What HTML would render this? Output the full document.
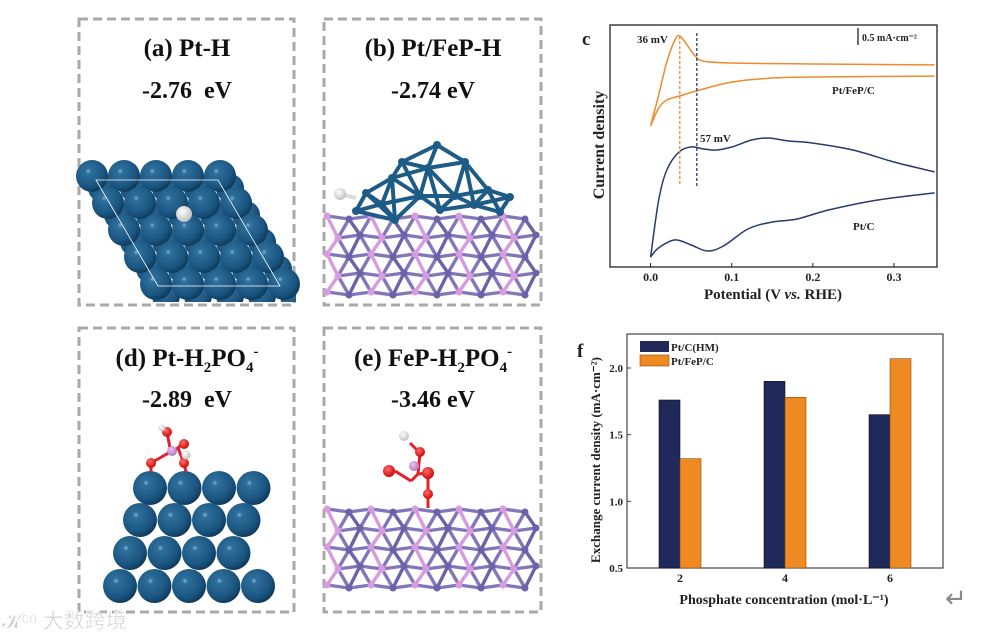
<!DOCTYPE html>
<html><head><meta charset="utf-8">
<style>
html,body{margin:0;padding:0;background:#fff;}
svg{display:block;font-family:"Liberation Serif",serif;}
</style></head>
<body>
<svg id="root" width="1005" height="637" viewBox="0 0 1005 637" xmlns="http://www.w3.org/2000/svg">
<defs>
<radialGradient id="ptg" cx="0.38" cy="0.35" r="0.7">
<stop offset="0" stop-color="#7fb4d6"/><stop offset="0.12" stop-color="#2f6f9c"/><stop offset="0.7" stop-color="#1a5580"/><stop offset="1" stop-color="#0d3554"/></radialGradient>
<radialGradient id="hg" cx="0.4" cy="0.35" r="0.7"><stop offset="0" stop-color="#fff"/><stop offset="1" stop-color="#bbb"/></radialGradient>
<radialGradient id="og" cx="0.4" cy="0.35" r="0.7"><stop offset="0" stop-color="#ff6a6a"/><stop offset="1" stop-color="#c00"/></radialGradient>
<radialGradient id="pg" cx="0.4" cy="0.35" r="0.7"><stop offset="0" stop-color="#f0c0f0"/><stop offset="1" stop-color="#b070c0"/></radialGradient>
<clipPath id="clipA"><rect x="70" y="150" width="226" height="152"/></clipPath>
</defs>
<g fill="none" stroke="#a9a9a9" stroke-width="3" stroke-dasharray="9,5">
<rect x="79" y="19" width="215" height="286"/>
<rect x="324" y="19" width="217" height="286"/>
<rect x="79" y="328" width="215" height="284"/>
<rect x="324" y="328" width="217" height="284"/>
</g>
<g font-weight="bold" fill="#111" text-anchor="middle">
<text x="187" y="56" font-size="25">(a) Pt-H</text>
<text x="187" y="98" font-size="24">-2.76&#160; eV</text>
<text x="433" y="56" font-size="25">(b) Pt/FeP-H</text>
<text x="433" y="98" font-size="24">-2.74 eV</text>
<text x="187" y="366" font-size="25">(d) Pt-H<tspan font-size="15" dy="6">2</tspan><tspan dy="-6">PO</tspan><tspan font-size="15" dy="6">4</tspan><tspan font-size="15" dy="-16">-</tspan></text>
<text x="187" y="407" font-size="24">-2.89&#160; eV</text>
<text x="433" y="366" font-size="25">(e) FeP-H<tspan font-size="15" dy="6">2</tspan><tspan dy="-6">PO</tspan><tspan font-size="15" dy="6">4</tspan><tspan font-size="15" dy="-16">-</tspan></text>
<text x="433" y="407" font-size="24">-3.46 eV</text>
</g>
<g id="ga"></g>
<g id="gb"></g>
<g id="gd"></g>
<g id="ge"></g>
<g id="gc"></g>
<g id="gf"></g>
<text x="2" y="628" font-size="21" fill="#ccc" stroke="#fff" stroke-width="0.6" font-family="'Liberation Sans','Noto Sans CJK SC',sans-serif">&#x1D4DA;ᶜᵒ 大数跨境</text>
<text x="945" y="607" font-size="26" fill="#888" font-family="'DejaVu Sans',sans-serif">↵</text>
</svg>
<script>
const NS='http://www.w3.org/2000/svg';
function mk(p,t,a){const e=document.createElementNS(NS,t);for(const k in a)e.setAttribute(k,a[k]);p.appendChild(e);return e;}
// ---------- panel c data ----------
const cvXTicks=[0.0,0.1,0.2,0.3];
const cvXTickLabels=['0.0','0.1','0.2','0.3'];
const fepUpperX=[0,0.01,0.02,0.03,0.036,0.045,0.055,0.065,0.1,0.2,0.35];
const fepUpperY=[5.83,7.11,8.47,9.38,9.55,9.17,8.72,8.51,8.43,8.39,8.35];
const fepLowerX=[0,0.01,0.02,0.036,0.06,0.1,0.15,0.2,0.35];
const fepLowerY=[5.83,6.57,6.90,7.07,7.31,7.64,7.81,7.85,7.89];
const ptUpperX=[0,0.01,0.02,0.035,0.05,0.065,0.08,0.1,0.125,0.145,0.17,0.2,0.25,0.3,0.35];
const ptUpperY=[0.41,2.77,4.01,4.75,4.96,4.88,4.83,4.96,5.25,5.33,5.21,5.12,4.83,4.34,3.93];
const ptLowerX=[0,0.01,0.03,0.05,0.07,0.09,0.12,0.15,0.18,0.22,0.28,0.35];
const ptLowerY=[0.41,0.79,1.12,0.91,0.66,0.87,1.57,1.86,1.98,2.36,2.77,3.06];
const peakMarks=[0.036,0.057];
// ---------- panel f data ----------
const barCats=['2','4','6'];
const ptcVals=[1.76,1.90,1.65];
const fepVals=[1.32,1.78,2.07];
const barYTicks=[0.5,1.0,1.5,2.0];
const barYTickLabels=['0.5','1.0','1.5','2.0'];

// ---- panel c ----
(function(){
const g=document.getElementById('gc');
const X0=610,X1=937,Y0=25,Y1=267;
const sx=v=>X0+(v-(-0.05))/(0.353+0.05)*(X1-X0);
const sy=v=>Y1-v/10*(Y1-Y0);
let e=mk(g,'rect',{x:X0,y:Y0,width:X1-X0,height:Y1-Y0,fill:'none',stroke:'#222','stroke-width':1.3});

cvXTicks.forEach((t,i)=>{
 const l=mk(g,'line',{x1:sx(t),x2:sx(t),y1:Y1,y2:Y1-4,stroke:'#222'});
 
 const tx=mk(g,'text',{x:sx(t),y:Y1+14,'font-size':12,'font-weight':'bold','text-anchor':'middle',fill:'#222'});tx.textContent=cvXTickLabels[i];
 
});
function path(xs,ys,col,name){
 const P=xs.map((x,i)=>[sx(x),sy(ys[i])]);
 let d='M'+P[0][0].toFixed(1)+','+P[0][1].toFixed(1);
 for(let i=0;i<P.length-1;i++){const p0=P[Math.max(0,i-1)],p1=P[i],p2=P[i+1],p3=P[Math.min(P.length-1,i+2)];
  const c1=[p1[0]+(p2[0]-p0[0])/6,p1[1]+(p2[1]-p0[1])/6],c2=[p2[0]-(p3[0]-p1[0])/6,p2[1]-(p3[1]-p1[1])/6];
  d+='C'+c1[0].toFixed(1)+','+c1[1].toFixed(1)+' '+c2[0].toFixed(1)+','+c2[1].toFixed(1)+' '+p2[0].toFixed(1)+','+p2[1].toFixed(1);}
 const p=mk(g,'path',{d:d,fill:'none',stroke:col,'stroke-width':1.5,'stroke-linejoin':'round'});
 }
path(fepUpperX,fepUpperY,'#ef8a2e','fep-upper-curve');
path(fepLowerX,fepLowerY,'#ef8a2e','fep-lower-curve');
path(ptUpperX,ptUpperY,'#283a6e','ptc-upper-curve');
path(ptLowerX,ptLowerY,'#283a6e','ptc-lower-curve');
const cols=['#ef8a2e','#283a6e'];
peakMarks.forEach((m,i)=>{const l=mk(g,'line',{x1:sx(m),x2:sx(m),y1:i?33:36,y2:186,stroke:cols[i],'stroke-width':1.3,'stroke-dasharray':'3,2'});
 });
const T=(x,y,s,txt,name,extra)=>{const t=mk(g,'text',Object.assign({x:x,y:y,'font-size':s,'font-weight':'bold',fill:'#222'},extra||{}));t.textContent=txt;return t;};
T(637,43,11,'36 mV','peak-label-fep');
T(700,142,11,'57 mV','peak-label-ptc');
T(832,94,11,'Pt/FeP/C','series-label-fep');
T(853,230,11,'Pt/C','series-label-ptc');
T(862,41,10,'0.5 mA·cm⁻²','scale-bar-label');
const sb=mk(g,'line',{x1:858,x2:858,y1:28,y2:45,stroke:'#222','stroke-width':1.3});
T(582,45,19,'c','panel-c-label');
T(773,299,15,'Potential (V ','cv-x-axis-title',{'text-anchor':'middle'}).innerHTML='Potential (V <tspan font-style="italic">vs.</tspan> RHE)';
T(604,145,16,'Current density','cv-y-axis-title',{'text-anchor':'middle',transform:'rotate(-90 604 145)'});
})();

// ---- panel f ----
(function(){
const g=document.getElementById('gf');
const X0=627,X1=943,Y0=334,Y1=568;
const sy=v=>Y1-(v-0.5)/(2.255-0.5)*(Y1-Y0);
const cx=[680,785,890];const bw=21;
let e=mk(g,'rect',{x:X0,y:Y0,width:X1-X0,height:Y1-Y0,fill:'none',stroke:'#444','stroke-width':1.2});

barYTicks.forEach((t,i)=>{const l=mk(g,'line',{x1:X0,x2:X0+4,y1:sy(t),y2:sy(t),stroke:'#444'});
 const tx=mk(g,'text',{x:X0-4,y:sy(t)+4,'font-size':11,'font-weight':'bold','text-anchor':'end',fill:'#222'});tx.textContent=barYTickLabels[i];});
barCats.forEach((c,i)=>{
 const a=mk(g,'rect',{x:cx[i]-bw,y:sy(ptcVals[i]),width:bw,height:Y1-sy(ptcVals[i]),fill:'#1f2a5a',stroke:'#111','stroke-width':0.6});
 
 const b=mk(g,'rect',{x:cx[i],y:sy(fepVals[i]),width:bw,height:Y1-sy(fepVals[i]),fill:'#ef8a22',stroke:'#8a4a10','stroke-width':0.6});
 
 const tx=mk(g,'text',{x:cx[i],y:Y1+14,'font-size':12,'font-weight':'bold','text-anchor':'middle',fill:'#222'});tx.textContent=c;
});
const L1=mk(g,'rect',{x:640,y:341,width:29,height:11,fill:'#1f2a5a'});
const L2=mk(g,'rect',{x:640,y:355,width:29,height:11,fill:'#ef8a22',stroke:'#8a4a10','stroke-width':0.6});
const T=(x,y,s,txt,name,extra)=>{const t=mk(g,'text',Object.assign({x:x,y:y,'font-size':s,'font-weight':'bold',fill:'#222'},extra||{}));t.textContent=txt;return t;};
T(671,351,11,'Pt/C(HM)','legend-label-ptc');
T(671,365,11,'Pt/FeP/C','legend-label-fep');
T(784,604,14,'Phosphate concentration (mol·L⁻¹)','bar-x-axis-title',{'text-anchor':'middle'});
T(600,460,13,'Exchange current density (mA·cm⁻²)','bar-y-axis-title',{'text-anchor':'middle',transform:'rotate(-90 600 460)'});
T(577,357,19,'f','panel-f-label');
})();

// ---- structures ----
function sphere(g,x,y,r,f,name){const c=mk(g,'circle',{cx:x,cy:y,r:r,fill:'url(#'+f+')'});}
(function(){const g=document.getElementById('ga');
const back=mk(g,'g',{'clip-path':'url(#clipA)'});
for(let row=0;row<5;row++){for(let k=0;k<5;k++){sphere(back,102+row*16+k*32,188+row*27,14,'ptg','pt-atom-back');}}
for(let row=0;row<5;row++){for(let k=0;k<5;k++){sphere(g,92+row*16+k*32,176+row*27,16,'ptg','pt-atom');}}
const p=mk(g,'path',{d:'M96,180 L218,180 L280,286 L158,286 Z',fill:'none',stroke:'#fff','stroke-width':0.8});
sphere(g,184,214,8,'hg','h-atom');})();
function lattice(g,x0,x1,y0,y1){
 const pts=[];let r=0;for(let y=y0;y<=y1;y+=19,r++){for(let x=x0+(r%2)*11;x<=x1;x+=22){pts.push([x,y+((x/22|0)%2)*3,(r+(x/22|0))%2]);}}
 pts.forEach((a,i)=>pts.forEach((b,j)=>{if(j<=i)return;const d=Math.hypot(a[0]-b[0],a[1]-b[1]);if(d<34){const l=mk(g,'line',{x1:a[0],y1:a[1],x2:b[0],y2:b[1],stroke:(a[2]&&b[2])?'#6b63a8':(a[2]||b[2])?'#8376bb':'#d79be0','stroke-width':3.4});}}));
 pts.forEach(a=>{const c=mk(g,'circle',{cx:a[0],cy:a[1],r:3.5,fill:a[2]?'#6b63a8':'#d79be0'});});}
(function(){const g=document.getElementById('gb');lattice(g,327,540,216,298);
const pt=[[437,145],[402,162],[465,162],[392,178],[428,168],[455,196],[488,190],[510,197],[366,193],[382,204],[420,196],[440,210],[474,205],[395,220],[356,211],[500,212]];
pt.forEach((a,i)=>pt.forEach((b,j)=>{if(j<=i)return;if(Math.hypot(a[0]-b[0],a[1]-b[1])<45){const l=mk(g,'line',{x1:a[0],y1:a[1],x2:b[0],y2:b[1],stroke:'#1d5c86','stroke-width':4});}}));
pt.forEach(a=>{const c=mk(g,'circle',{cx:a[0],cy:a[1],r:4,fill:'#1d5c86'});});
const h=mk(g,'line',{x1:340,y1:194,x2:356,y2:198,stroke:'#ddd','stroke-width':4});
sphere(g,340,194,6,'hg','h-atom');})();
(function(){const g=document.getElementById('gd');
const rows=[[150,488,4],[140,520,4],[130,553,4],[120,586,5]];
rows.forEach(r=>{for(let k=0;k<r[2];k++)sphere(g,r[0]+k*34.5,r[1],17,'ptg','pt-atom');});
const bonds=[[151,463,165,455],[165,455,178,448],[178,448,184,463],[184,463,186,472],[151,463,151,472],[170,448,167,432],[178,448,185,440]];
bonds.forEach(b=>{const l=mk(g,'line',{x1:b[0],y1:b[1],x2:b[2],y2:b[3],stroke:'#e0202a','stroke-width':3});});
sphere(g,151,463,5,'og','o-atom');sphere(g,167,432,5,'og','o-atom');sphere(g,184,444,5,'og','o-atom');sphere(g,184,463,5,'og','o-atom');
sphere(g,172,451,5,'pg','p-atom');sphere(g,162,428,3.5,'hg','h-atom');sphere(g,186,455,4.5,'hg','h-atom');})();
(function(){const g=document.getElementById('ge');lattice(g,327,540,509,603);
const bonds=[[411,481,395,471],[411,481,418,474],[418,474,428,473],[428,473,428,494],[428,494,428,508],[418,474,420,453],[420,453,410,443]];
bonds.forEach(b=>{const l=mk(g,'line',{x1:b[0],y1:b[1],x2:b[2],y2:b[3],stroke:'#e0202a','stroke-width':3});});
sphere(g,389,471,6,'og','o-atom');sphere(g,428,473,6,'og','o-atom');sphere(g,420,452,5,'og','o-atom');sphere(g,428,494,5,'og','o-atom');
sphere(g,414,466,5,'pg','p-atom');sphere(g,404,436,5,'hg','h-atom');})();
</script>
</body></html>
